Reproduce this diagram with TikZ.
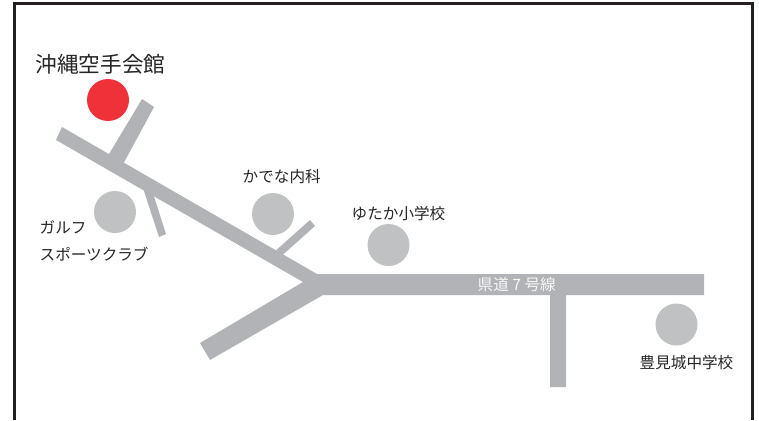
\documentclass[tikz,border=0pt]{standalone}
\usepackage{fontspec}
\setmainfont{Noto Sans CJK JP}
\definecolor{road}{HTML}{B2B3B6}
\definecolor{spot}{HTML}{C0C1C3}
\definecolor{dojo}{HTML}{EF3239}
\definecolor{frameink}{HTML}{231F20}
\tikzset{
  roadshape/.style={fill=road,draw=none},
  spotdot/.style={circle,fill=spot,draw=none,minimum size=42pt,inner sep=0pt},
  dojodot/.style={circle,fill=dojo,draw=none,minimum size=42pt,inner sep=0pt},
  label15/.style={inner sep=0pt,text=black!85,font=\fontsize{15.6pt}{16pt}\selectfont,anchor=west},
  labelbig/.style={inner sep=0pt,text=black!85,font=\fontsize{21.6pt}{22pt}\selectfont,anchor=west},
  roadlabel/.style={inner sep=0pt,text=white!90!road,font=\fontsize{15.6pt}{16pt}\selectfont,anchor=west}
}
\begin{document}
\begin{tikzpicture}[x=1pt,y=-1pt]
\useasboundingbox (0,0) rectangle (759,420);
\fill[white] (0,0) rectangle (759,420);
% frame (open at the bottom edge of the picture)
\draw[frameink,line width=2.2pt] (14.5,420) -- (14.5,3.5) -- (752.5,3.5) -- (752.5,420);
% roads
\fill[roadshape] (62,127) -- (317,274) -- (704,274) -- (704,295) -- (566,295) -- (566,387) -- (550,387) -- (550,295) -- (323,295) -- (210,360) -- (200,343) -- (303,282) -- (56,140) -- cycle;
\fill[roadshape] (142,99) -- (154,107) -- (121,168) -- (106,159) -- cycle;
\fill[roadshape] (143,188) -- (151,187) -- (166,234) -- (159,237) -- cycle;
\fill[roadshape] (273,253) -- (310,220) -- (315,226) -- (278,259) -- cycle;
% places
\node[dojodot] (dojo) at (108,100) {};
\node[spotdot] (golf) at (115,212) {};
\node[spotdot] (kadena) at (273,214) {};
\node[spotdot] (yutaka) at (388.5,245) {};
\node[spotdot] (toyomi) at (676.5,324.5) {};
% labels
\node[labelbig] (tdojo) at (35.5,64) {沖縄空手会館};
\node[label15] (tkadena) at (242.5,177) {かでな内科};
\node[label15] (tyutaka) at (351.5,214) {ゆたか小学校};
\node[label15] (tgolfa) at (39.5,227) {ガルフ};
\node[label15] (tgolfb) at (39.5,254) {スポーツクラブ};
\node[label15] (ttoyomi) at (639.5,362.5) {豊見城中学校};
\node[roadlabel] (troad) at (477.5,284.5) {県道 7 号線};
\end{tikzpicture}
\end{document}
